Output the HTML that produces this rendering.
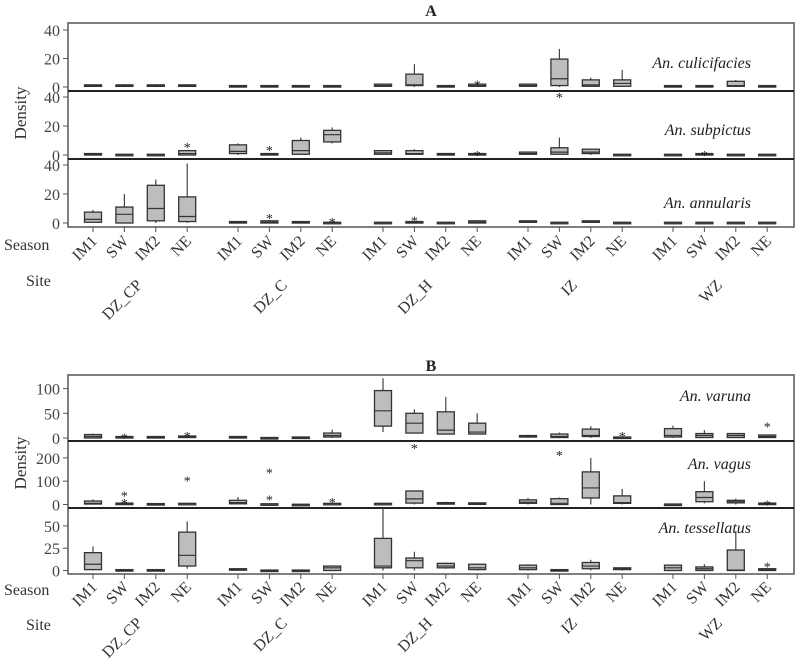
<!DOCTYPE html>
<html><head><meta charset="utf-8"><style>
body{margin:0;background:#fff}
svg{display:block;font-family:"Liberation Serif",serif}
</style></head><body>
<svg id="chart" width="797" height="663" viewBox="0 0 797 663"></svg>
<script>
const seasons=["IM1","SW","IM2","NE"];
const sites=["DZ_CP","DZ_C","DZ_H","IZ","WZ"];
// each box: [whiskerLow, q1, median, q3, whiskerHigh]
const culicifacies=[[0,0.5,1,1.5,2],[0,0.5,1,1.5,2],[0,0.5,1,1.5,2],[0,0.5,1,1.5,2],
[0,0,0.5,1,1],[0,0,0.5,1,1],[0,0,0.5,1,1],[0,0,0.5,1,1],
[0,0.5,1,2,2],[0,1,1.5,9,16],[0,0,0.5,1,1],[0,0.5,1,2,2],
[0,0.5,1,2,2],[0,1,5.8,19.6,26.7],[0,0.5,1.5,5,6.5],[0,0.5,2.5,5,12],
[0,0,0.5,1,1],[0,0,0.5,1,1],[0,0.5,1,4,5],[0,0,0.5,1,1]];
const culicifaciesOut=[[11,3],[13,-5.6]];
const subpictus=[[0,0,0.5,1,1],[0,0,0.3,0.5,0.5],[0,0,0.3,0.5,0.5],[0,0,1,3,3],
[0,1,2.5,7,8],[0,0,0.5,1,1],[0,0.5,3,10,12],[8,9,14,17,19],
[0,0.5,1.5,3,3],[0,0.5,1,3,4],[0,0,0.5,1,1],[0,0,0.5,1,1],
[0,0.5,1,2,2],[0,0.5,2,5,12],[0,1,2,4,4.5],[0,0,0.3,0.5,0.5],
[0,0,0.3,0.5,0.5],[0,0,0.5,1,1],[0,0,0.3,0.5,0.5],[0,0,0.3,0.5,0.5]];
const subpictusOut=[[3,7],[5,5],[11,1.5],[17,1.5]];
const annularis=[[0,0.5,2.5,7.5,9],[0,0,6,11,20],[0,1.5,10,26,30],[0,1,4.5,18,41],
[0,0,0.5,1,1],[0,0,0.5,1.5,2],[0,0,0.5,1,1],[0,0,0.3,0.5,1],
[0,0,0.3,0.5,0.5],[0,0,0.5,1,1],[0,0,0.3,0.5,0.5],[0,0,0.5,1.5,2],
[0,0.5,1,1.5,1.5],[0,0,0.3,0.5,0.5],[0,0.5,1,1.5,1.5],[0,0,0.3,0.5,0.5],
[0,0,0.3,0.5,0.5],[0,0,0.3,0.5,0.5],[0,0,0.3,0.5,0.5],[0,0,0.3,0.5,0.5]];
const annularisOut=[[5,5],[7,2],[9,3]];
const varuna=[[0,0,3,7,9],[0,0,1,3,3],[0,1,2,3,4],[0,1,2,4,4],
[0,1,2,3,3],[0,0,0.5,1,1],[0,0,1,2,2],[0,2,5,10,17],
[12,24,55,96,121],[10,10,30,50,58],[8,8,16,53,83],[8,8,12,30,50],
[0,2,3,5,6],[0,1,3,8,11],[0,3,5,18,24],[0,1,1.5,2,2],
[0,2,5,19,25],[0,1,5,9,16],[0,1,5,9,9],[0,1,3,6,6]];
const varunaOut=[[1,5],[3,8],[9,-16],[15,8],[19,27]];
const vagus=[[0,2,5,15,22],[0,0,2,6,8],[0,0,2,4,5],[0,2,4,5,5],
[0,3,8,18,32],[0,0,2,3,3],[0,0,0,1,1],[0,2,4,5,6],
[0,2,4,5,5],[0,6,24,58,58],[0,2,5,8,12],[0,2,4,7,8],
[0,5,10,20,28],[0,0,5,25,30],[0,28,71,140,200],[0,5,8,37,67],
[0,1,1,2,2],[5,12,30,55,100],[0,7,12,18,25],[0,0,3,6,6]];
const vagusOut=[[1,15],[1,48],[3,112],[5,30],[5,145],[7,20],[13,220],[19,8]];
const tessellatus=[[0,1,7,20,27],[0,0,0.5,1,1],[0,0,0.5,1,1],[2,5,17,43,55],
[0,0.5,1,2,2],[0,0,0,0.5,0.5],[0,0,0,0.5,0.5],[0,0,3,5,5],
[0,3,5,36,70],[0,3,11,14,21],[2,3,5,8,9],[0,1,3,7,8],
[0,1,3,6,7],[0,0,0.5,1,1],[0,2,5,9,12],[0,1,2,3,3],
[0,0,3,6,6],[0,0,2,4,7],[0,0,0.5,23,44],[0,0,1,2,2]];
const tessellatusOut=[[19,7]];
const ticksA=[0,20,40];
const ticksB1=[0,50,100];
const ticksB2=[0,100,200];
const ticksB3=[0,25,50];

const svg=document.getElementById('chart');
const NS='http://www.w3.org/2000/svg';
function mk(tag,attrs,parent){const e=document.createElementNS(NS,tag);for(const k in attrs)e.setAttribute(k,attrs[k]);(parent||svg).appendChild(e);return e;}
function xPos(i){const g=Math.floor(i/4),s=i%4;return 93+g*145+s*31.4;}
const L=68,R=794;

function panel(name,label,data,outs,ticks,zeroY,pxPerUnit,top,bottom,lastDivider){
  const g=mk('g',{});
  
  
  const y=v=>zeroY-v*pxPerUnit;
  ticks.forEach(t=>{
    const tk=mk('line',{x1:L-5,x2:L,y1:y(t),y2:y(t),stroke:'#555','stroke-width':1},g);
    
    
    const tx=mk('text',{x:L-8,y:y(t)+6,'text-anchor':'end','font-size':16,fill:'#444'},g);
    tx.textContent=t;
    
    
  });
  data.forEach((d,i)=>{
    const x=xPos(i),w=17;
    const bg=mk('g',{},g);
    
    
    mk('line',{x1:x,x2:x,y1:y(d[0]),y2:y(d[1]),stroke:'#444','stroke-width':1.2},bg);
    mk('line',{x1:x,x2:x,y1:y(d[3]),y2:y(d[4]),stroke:'#444','stroke-width':1.2},bg);
    const h=Math.max(y(d[1])-y(d[3]),1.5);
    mk('rect',{x:x-w/2,y:y(d[3]),width:w,height:h,fill:'#bdbdbd',stroke:'#333','stroke-width':1.3},bg);
    mk('line',{x1:x-w/2,x2:x+w/2,y1:y(d[2]),y2:y(d[2]),stroke:'#333','stroke-width':1.2},bg);
  });
  outs.forEach(o=>{
    const t=mk('text',{x:xPos(o[0]),y:y(o[1])+7,'text-anchor':'middle','font-size':14,fill:'#222'},g);
    t.textContent='*';
    
    
  });
  const lb=mk('text',{x:751,y:label[1],'text-anchor':'end','font-size':16,'font-style':'italic',fill:'#222'},g);
  lb.textContent=label[0];
  
  
  if(!lastDivider){
    const dv=mk('line',{x1:L,x2:R,y1:bottom,y2:bottom,stroke:'#222','stroke-width':2},g);
    
    
  }
}

function chart(id,title,titleY,top,bottom,seasonY,seasonLabelY,siteLabelY,siteY,densityY){
  const fr=mk('rect',{x:L,y:top,width:R-L,height:bottom-top,fill:'none',stroke:'#555','stroke-width':1.5});
  
  
  const t=mk('text',{x:431,y:titleY,'text-anchor':'middle','font-size':16,'font-weight':'bold',fill:'#222'});
  t.textContent=title;
  
  
  const d=mk('text',{x:0,y:0,'text-anchor':'middle','font-size':17,fill:'#333',transform:`translate(26,${densityY}) rotate(-90)`});
  d.textContent='Density';
  
  
  for(let i=0;i<20;i++){
    const x=xPos(i);
    const tk=mk('line',{x1:x,x2:x,y1:bottom,y2:bottom+5,stroke:'#555','stroke-width':1});
    
    
    const s=mk('text',{x:0,y:0,'text-anchor':'end','font-size':16,fill:'#333',transform:`translate(${x+5},${seasonY}) rotate(-45)`});
    s.textContent=seasons[i%4];
    
    
  }
  sites.forEach((st,g)=>{
    const cx=xPos(g*4)+47+3;
    const s=mk('text',{x:0,y:0,'text-anchor':'end','font-size':16,fill:'#333',transform:`translate(${cx},${siteY}) rotate(-45)`});
    s.textContent=st;
    
    
  });
  const se=mk('text',{x:4,y:seasonLabelY,'font-size':16,fill:'#333'});
  se.textContent='Season';
  
  
  const si=mk('text',{x:26,y:siteLabelY,'font-size':16,fill:'#333'});
  si.textContent='Site';
  
  
}

chart('chart-a','A',16,23,227,242,250,286,286,113);
panel('culicifacies',['An. culicifacies',68],culicifacies,culicifaciesOut,ticksA,87,57/40,23,91,false);
panel('subpictus',['An. subpictus',135],subpictus,subpictusOut,ticksA,155,58/40,91,159,false);
panel('annularis',['An. annularis',208],annularis,annularisOut,ticksA,223,58/40,159,227,true);

chart('chart-b','B',371,375,574,588,595,630,624,463);
panel('varuna',['An. varuna',401],varuna,varunaOut,ticksB1,438,24.7/50,375,441,false);
panel('vagus',['An. vagus',469],vagus,vagusOut,ticksB2,504.5,23.3/100,441,508,false);
panel('tessellatus',['An. tessellatus',533],tessellatus,tessellatusOut,ticksB3,570.5,22.3/25,508,574,true);
</script>
</body></html>
